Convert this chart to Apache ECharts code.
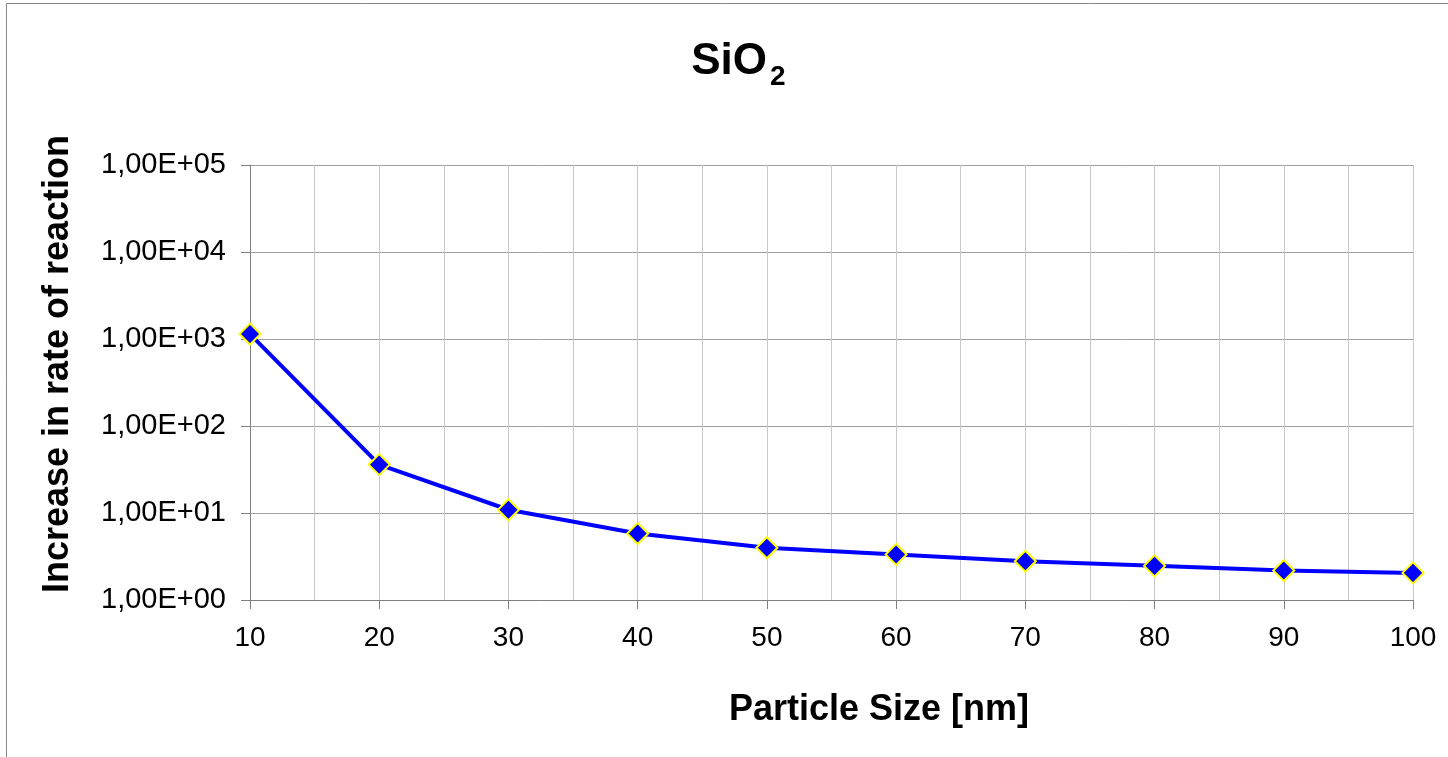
<!DOCTYPE html>
<html>
<head>
<meta charset="utf-8">
<script src="https://cdn.jsdelivr.net/npm/echarts@6/dist/echarts.min.js"></script>
<style>html,body{margin:0;padding:0;background:#fff}#c{width:1448px;height:757px}</style>
</head>
<body>
<div id="c"></div>
<script>
var particleSize = [10, 20, 30, 40, 50, 60, 70, 80, 90, 100];
var rateIncrease = [1140, 36, 10.9, 5.8, 3.99, 3.34, 2.79, 2.47, 2.18, 2.05];
var yTickLabels = ['1,00E+00', '1,00E+01', '1,00E+02', '1,00E+03', '1,00E+04', '1,00E+05'];
var xTickLabels = ['10', '20', '30', '40', '50', '60', '70', '80', '90', '100'];

var FONT = '"Liberation Sans", Arial, sans-serif';
var chart = echarts.init(document.getElementById('c'), null, {renderer: 'canvas'});
chart.setOption({
  backgroundColor: '#fff',
  animation: false,
  graphic: [
    {type: 'rect', shape: {x: 6.5, y: 3.5, width: 3000, height: 3000}, style: {fill: 'none', stroke: '#888', lineWidth: 1}, silent: true},
    {type: 'text', x: 767, y: 62, style: {text: 'SiO', font: 'bold 44px ' + FONT, fill: '#000', textAlign: 'right', textVerticalAlign: 'middle'}},
    {type: 'text', x: 770, y: 77, style: {text: '2', font: 'bold 28px ' + FONT, fill: '#000', textAlign: 'left', textVerticalAlign: 'middle'}},
    {type: 'text', x: 879, y: 710, style: {text: 'Particle Size [nm]', font: 'bold 36px ' + FONT, fill: '#000', textAlign: 'center', textVerticalAlign: 'middle'}},
    {type: 'text', x: 58, y: 364, rotation: Math.PI / 2, style: {text: 'Increase in rate of reaction', font: 'bold 36px ' + FONT, fill: '#000', textAlign: 'center', textVerticalAlign: 'middle'}}
  ],
  grid: {left: 250, right: 35, top: 165, bottom: 157, containLabel: false},
  xAxis: {
    type: 'value', min: 10, max: 100, interval: 10,
    axisLine: {show: true, lineStyle: {color: '#808080', width: 1}},
    axisTick: {show: true, length: 9, inside: false, lineStyle: {color: '#808080'}},
    axisLabel: {
      color: '#000', fontSize: 28, fontFamily: FONT, margin: 24,
      formatter: function (v) { var i = particleSize.indexOf(v); return i >= 0 ? xTickLabels[i] : ''; }
    },
    splitLine: {show: true, lineStyle: {color: '#c8c8c8', width: 1}},
    minorTick: {show: false, splitNumber: 2},
    minorSplitLine: {show: true, lineStyle: {color: '#c8c8c8', width: 1}}
  },
  yAxis: {
    type: 'log', logBase: 10, min: 1, max: 100000,
    axisLine: {show: true, lineStyle: {color: '#808080', width: 1}},
    axisTick: {show: true, length: 9, lineStyle: {color: '#808080'}},
    axisLabel: {
      color: '#000', fontSize: 29, fontFamily: FONT, margin: 24,
      formatter: function (v) { var e = Math.round(Math.log10(v)); return yTickLabels[e] || ''; }
    },
    splitLine: {show: true, lineStyle: {color: '#a0a0a0', width: 1}}
  },
  series: [{
    type: 'line',
    data: particleSize.map(function (x, i) { return [x, rateIncrease[i]]; }),
    lineStyle: {color: '#0000ff', width: 4},
    symbol: 'diamond', symbolSize: 21,
    itemStyle: {color: '#0000ff', borderColor: '#ffff00', borderWidth: 2},
    showSymbol: true, clip: false
  }]
});
</script>
</body>
</html>
